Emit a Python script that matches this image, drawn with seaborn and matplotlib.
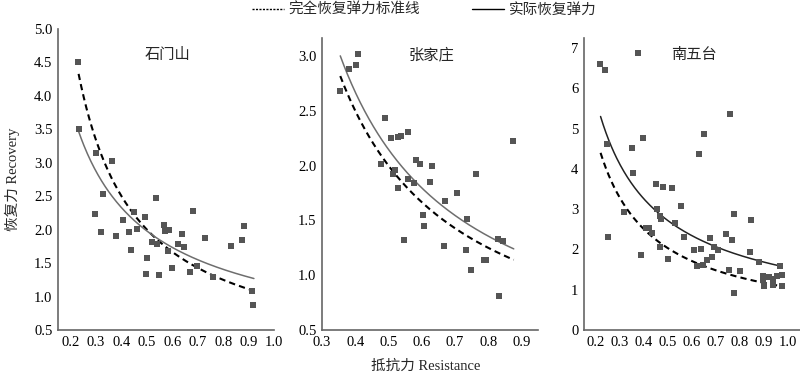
import numpy as np
import pandas as pd
import matplotlib
matplotlib.use("Agg")
import matplotlib.pyplot as plt
from matplotlib.lines import Line2D
import seaborn as sns

sns.set_style("white")
plt.rcParams['font.family'] = ['Liberation Serif', 'Noto Sans CJK SC']

# site names
sites = ["石门山", "张家庄", "南五台"]

# resistance / recovery points
shimen_x = [0.229, 0.233, 0.301, 0.363, 0.328, 0.296, 0.319, 0.377, 0.407, 0.429,
            0.437, 0.450, 0.461, 0.492, 0.500, 0.498, 0.518, 0.535, 0.539, 0.549,
            0.566, 0.572, 0.587, 0.582, 0.598, 0.624, 0.637, 0.647, 0.668, 0.682,
            0.698, 0.730, 0.761, 0.830, 0.876, 0.882, 0.915, 0.918]
shimen_y = [4.50, 3.50, 3.15, 3.03, 2.54, 2.24, 1.96, 1.91, 2.14, 1.96,
            1.69, 2.26, 2.01, 2.19, 1.58, 1.34, 1.81, 2.47, 1.79, 1.32,
            2.07, 1.98, 2.00, 1.68, 1.43, 1.78, 1.93, 1.74, 1.37, 2.28,
            1.45, 1.87, 1.29, 1.75, 1.85, 2.05, 1.08, 0.87]

zhang_x = [0.355, 0.381, 0.403, 0.407, 0.478, 0.491, 0.509, 0.514, 0.521, 0.528,
           0.538, 0.529, 0.546, 0.558, 0.559, 0.582, 0.577, 0.594, 0.604, 0.608,
           0.626, 0.632, 0.666, 0.670, 0.705, 0.734, 0.735, 0.747, 0.763, 0.787,
           0.794, 0.831, 0.844, 0.832, 0.875]
zhang_y = [2.68, 2.885, 2.92, 3.02, 2.01, 2.43, 2.25, 1.92, 1.96, 2.26,
           2.27, 1.80, 1.32, 1.88, 2.31, 2.05, 1.84, 2.01, 1.55, 1.45,
           1.85, 2.00, 1.27, 1.68, 1.75, 1.23, 1.51, 1.05, 1.92, 1.14,
           1.14, 1.33, 1.31, 0.81, 2.22]

nanwu_x = [0.218, 0.239, 0.376, 0.244, 0.251, 0.318, 0.350, 0.353, 0.394, 0.388,
           0.407, 0.421, 0.432, 0.451, 0.453, 0.465, 0.472, 0.467, 0.481, 0.501,
           0.518, 0.531, 0.556, 0.565, 0.608, 0.621, 0.629, 0.639, 0.646, 0.650,
           0.661, 0.675, 0.682, 0.693, 0.710, 0.742, 0.754, 0.760, 0.765, 0.774,
           0.776, 0.799, 0.842, 0.847, 0.881, 0.894, 0.896, 0.899, 0.922, 0.939,
           0.938, 0.956, 0.967, 0.976, 0.975]
nanwu_y = [6.61, 6.45, 6.87, 4.63, 2.32, 2.94, 4.52, 3.90, 4.76, 1.87,
           2.53, 2.53, 2.42, 3.63, 3.01, 2.83, 2.75, 2.07, 3.56, 1.76,
           3.52, 2.66, 3.07, 2.32, 1.98, 1.60, 4.37, 2.02, 1.61, 4.87,
           1.74, 2.29, 1.81, 2.07, 1.98, 2.38, 1.50, 5.36, 2.23, 2.88,
           0.93, 1.46, 1.94, 2.73, 1.70, 1.34, 1.23, 1.09, 1.31, 1.26,
           1.11, 1.34, 1.58, 1.36, 1.10]

# power-curve coefficients y = a * x^b (standard line and actual fit)
std_a = [1.0, 1.0, 1.06]
std_b = [-1.0, -1.0, -0.937]
fit_a = [1.196, 1.091, 1.547]
fit_b = [-0.727, -0.977, -0.811]
curve_x0 = [0.231, 0.355, 0.219]
curve_x1 = [0.921, 0.877, 0.964]

# axis settings
xlims = [(0.15, 1.0), (0.3, 0.95), (0.15, 1.05)]
xticks = [np.arange(0.2, 1.01, 0.1), np.arange(0.3, 0.91, 0.1), np.arange(0.2, 1.01, 0.1)]
ylims = [(0.5, 5.0), (0.5, 3.164), (0, 7.25)]
yticks = [np.arange(0.5, 5.01, 0.5), np.arange(0.5, 3.01, 0.5), np.arange(0, 8, 1)]
yfmt = ["%.1f", "%.1f", "%d"]
fit_col = ["#6e6e6e", "#6e6e6e", "#222222"]

xs = [shimen_x, zhang_x, nanwu_x]
ys = [shimen_y, zhang_y, nanwu_y]

W, H = 800, 373
fig = plt.figure(figsize=(8, 3.73), dpi=100)
# pixel boxes: left, top, right, bottom
boxes = [(58, 29, 274, 330), (322, 38, 538, 330), (584, 38, 800, 330)]

for i in range(3):
    l, t, r, b = boxes[i]
    ax = fig.add_axes([l / W, 1 - b / H, (r - l) / W, (b - t) / H])
    df = pd.DataFrame({"x": xs[i], "y": ys[i]})
    sns.scatterplot(data=df, x="x", y="y", marker="s", s=16, color="#555555",
                    linewidth=0, ax=ax, zorder=3)

    cx = np.linspace(curve_x0[i], curve_x1[i], 200)
    sns.lineplot(x=cx, y=std_a[i] * cx ** std_b[i], color="black", lw=1.5,
                 linestyle=(0, (3, 2)), ax=ax, zorder=2)
    sns.lineplot(x=cx, y=fit_a[i] * cx ** fit_b[i], color=fit_col[i], lw=1.1,
                 ax=ax, zorder=2)

    ax.set_xlim(xlims[i])
    ax.set_ylim(ylims[i])
    ax.set_xticks(xticks[i])
    ax.set_xticklabels(["%.1f" % v for v in xticks[i]])
    ax.set_yticks(yticks[i])
    ax.set_yticklabels([yfmt[i] % v for v in yticks[i]])
    ax.tick_params(direction="in", length=3, width=0.8, colors="#555555",
                   labelcolor="black", labelsize=10.5, pad=4)
    for s in ["top", "right"]:
        ax.spines[s].set_visible(False)
    for s in ["left", "bottom"]:
        ax.spines[s].set_color("#666666")
        ax.spines[s].set_linewidth(1.2)
    ax.set_xlabel("")
    ax.set_ylabel("")
    ax.text((l + r) / 2 / W + 0.002, 1 - 55 / H, sites[i], transform=fig.transFigure,
            ha="center", va="center", fontsize=11)

fig.text(12 / W, 0.52, "恢复力 Recovery", rotation=90, ha="center", va="center",
         fontsize=10.5)
fig.text(426 / W, 1 - 366 / H, "抵抗力 Resistance", ha="center", va="center",
         fontsize=10.5)

handles = [Line2D([], [], color="black", lw=1, linestyle=(0, (1.5, 1))),
           Line2D([], [], color="black", lw=1)]
fig.legend(handles, ["完全恢复弹力标准线", "实际恢复弹力"], loc="center",
           bbox_to_anchor=(424 / W, 1 - 10 / H), ncol=2, frameon=False,
           fontsize=10.5, handlelength=2.2, handletextpad=0.3, columnspacing=3.6,
           borderpad=0)

fig.savefig("out.png", dpi=100)
